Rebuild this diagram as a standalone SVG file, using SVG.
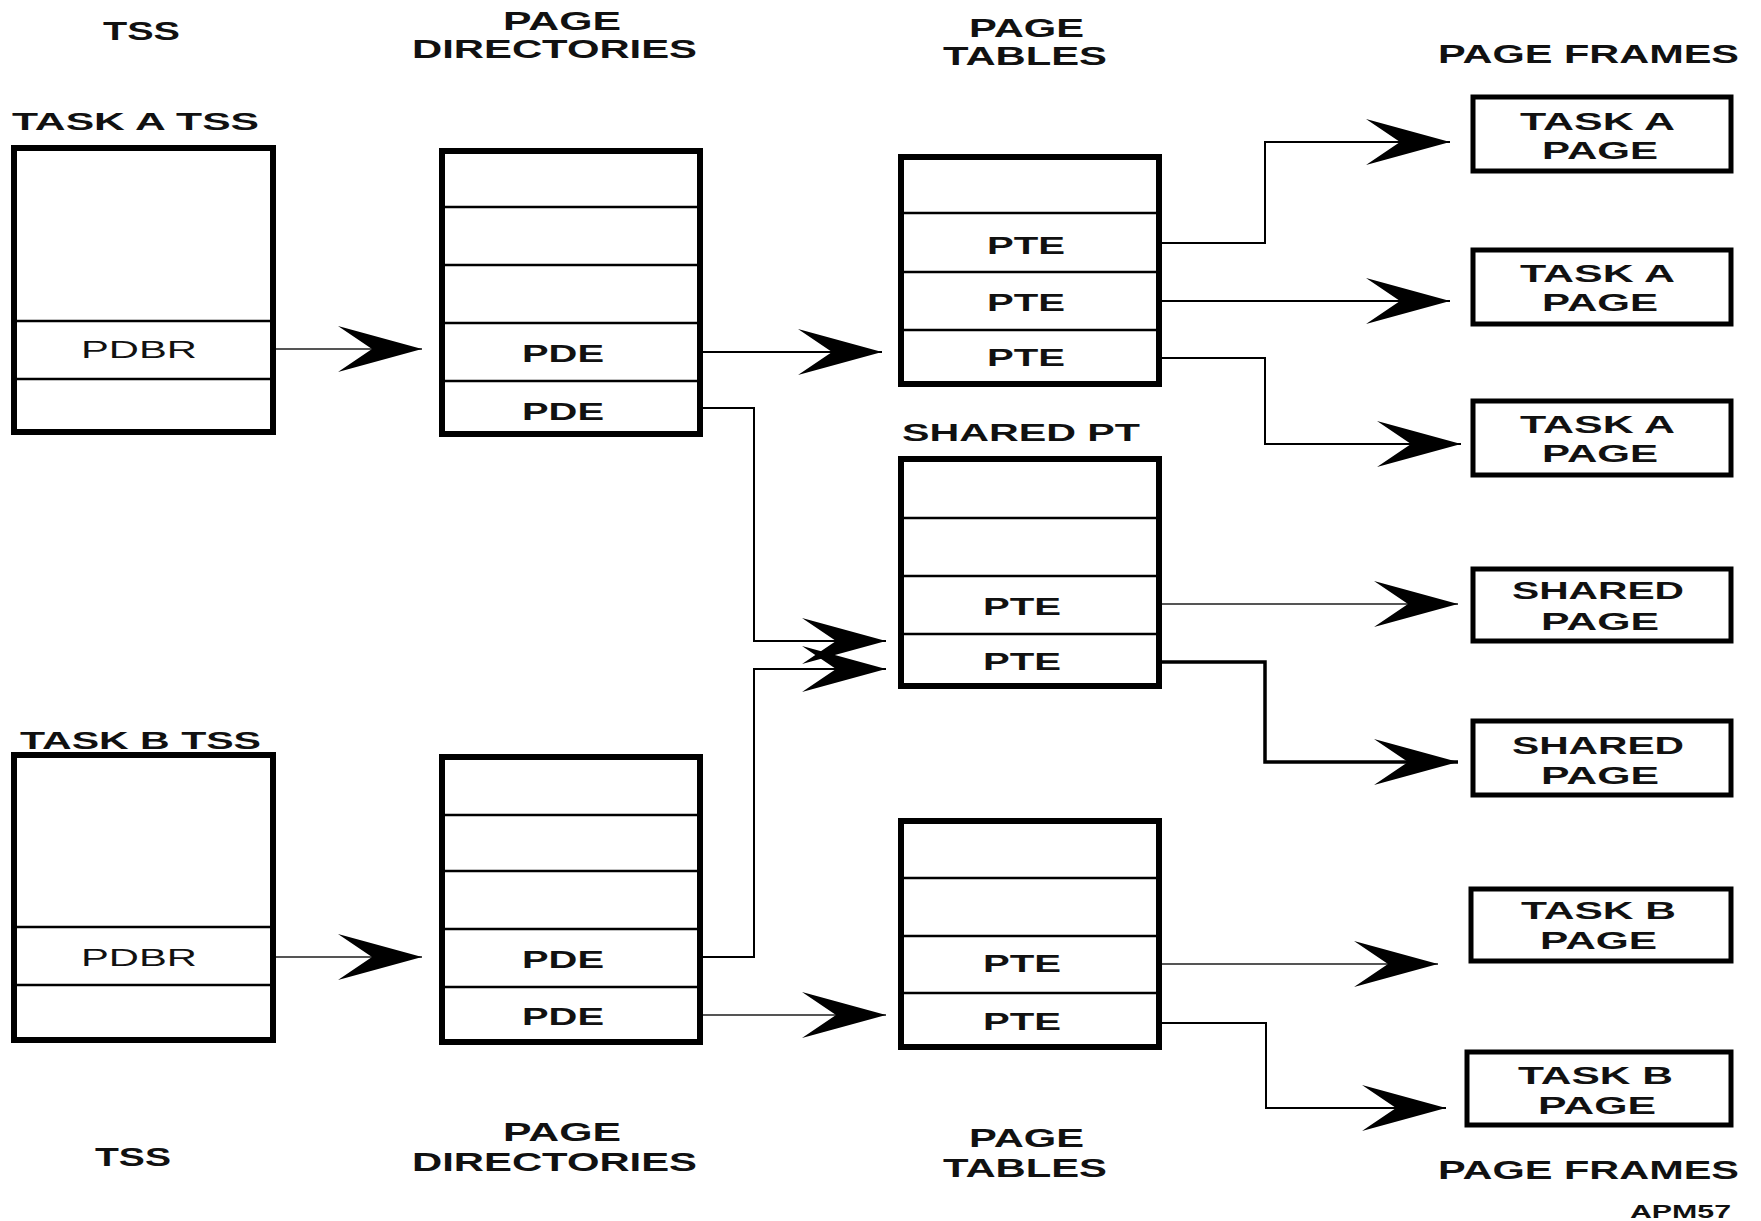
<svg xmlns="http://www.w3.org/2000/svg" width="1761" height="1221" viewBox="0 0 1761 1221">
<defs>
<style>
.bg{fill:#fff}
.box{fill:#fff;stroke:#000;stroke-width:6}
.frame{fill:#fff;stroke:#000;stroke-width:5}
.dv{stroke:#000;stroke-width:2.5}
.t{font-family:"Liberation Sans",Arial,Helvetica,sans-serif;font-weight:bold;font-size:24px;fill:#111}
.h{font-size:25px}
.n{font-weight:normal}
.c{fill:none;stroke:#000;stroke-width:2;marker-end:url(#ah)}
.g{stroke:#555}
.k{stroke-width:3.5}
</style>
<marker id="ah" viewBox="-86 -24 88 48" refX="0" refY="0" markerWidth="88" markerHeight="48" markerUnits="userSpaceOnUse" orient="auto">
<path d="M0,0 L-84,-23 L-50,0 L-84,23 Z" fill="#000"/>
</marker>
</defs>
<rect class="bg" x="0" y="0" width="1761" height="1221"/>

<g id="headers">
<text class="t h" x="103" y="40" textLength="77" lengthAdjust="spacingAndGlyphs">TSS</text>
<text class="t h" x="503" y="30" textLength="118" lengthAdjust="spacingAndGlyphs">PAGE</text>
<text class="t h" x="412" y="58" textLength="285" lengthAdjust="spacingAndGlyphs">DIRECTORIES</text>
<text class="t h" x="969" y="37" textLength="115" lengthAdjust="spacingAndGlyphs">PAGE</text>
<text class="t h" x="943" y="65" textLength="164" lengthAdjust="spacingAndGlyphs">TABLES</text>
<text class="t h" x="1438" y="63" textLength="301" lengthAdjust="spacingAndGlyphs">PAGE FRAMES</text>
<text class="t h" x="95" y="1166" textLength="76" lengthAdjust="spacingAndGlyphs">TSS</text>
<text class="t h" x="503" y="1141" textLength="118" lengthAdjust="spacingAndGlyphs">PAGE</text>
<text class="t h" x="412" y="1171" textLength="285" lengthAdjust="spacingAndGlyphs">DIRECTORIES</text>
<text class="t h" x="969" y="1147" textLength="115" lengthAdjust="spacingAndGlyphs">PAGE</text>
<text class="t h" x="943" y="1177" textLength="164" lengthAdjust="spacingAndGlyphs">TABLES</text>
<text class="t h" x="1438" y="1179" textLength="301" lengthAdjust="spacingAndGlyphs">PAGE FRAMES</text>
<text class="t" style="font-size:18px" x="1630" y="1218" textLength="101" lengthAdjust="spacingAndGlyphs">APM57</text>
</g>

<g id="connectors">
<path class="c g" d="M273,349 H422"/>
<path class="c" d="M700,352 H882"/>
<path class="c" d="M700,408 H754 V641 H886"/>
<path class="c" d="M700,957 H754 V669 H886"/>
<path class="c g" d="M273,957 H422"/>
<path class="c g" d="M700,1015 H886"/>
<path class="c" d="M1159,243 H1265 V142 H1450"/>
<path class="c" d="M1159,301 H1450"/>
<path class="c" d="M1159,358 H1265 V444 H1461"/>
<path class="c g" d="M1159,604 H1458"/>
<path class="c k" d="M1159,662 H1265 V762 H1458"/>
<path class="c g" d="M1159,964 H1438"/>
<path class="c" d="M1159,1023 H1266 V1108 H1446"/>
</g>

<g id="tss-a">
<text class="t" x="12" y="130" textLength="247" lengthAdjust="spacingAndGlyphs">TASK A TSS</text>
<rect class="box" x="14" y="148" width="259" height="284"/>
<line class="dv" x1="14" y1="321" x2="273" y2="321"/>
<line class="dv" x1="14" y1="379" x2="273" y2="379"/>
<text class="t n" x="81" y="358" textLength="116" lengthAdjust="spacingAndGlyphs">PDBR</text>
</g>

<g id="pd-a">
<rect class="box" x="442" y="151" width="258" height="283"/>
<line class="dv" x1="442" y1="207" x2="700" y2="207"/>
<line class="dv" x1="442" y1="265" x2="700" y2="265"/>
<line class="dv" x1="442" y1="323" x2="700" y2="323"/>
<line class="dv" x1="442" y1="381" x2="700" y2="381"/>
<text class="t" x="522" y="362" textLength="82" lengthAdjust="spacingAndGlyphs">PDE</text>
<text class="t" x="522" y="420" textLength="82" lengthAdjust="spacingAndGlyphs">PDE</text>
</g>

<g id="pt-a">
<rect class="box" x="901" y="157" width="258" height="227"/>
<line class="dv" x1="901" y1="213" x2="1159" y2="213"/>
<line class="dv" x1="901" y1="272" x2="1159" y2="272"/>
<line class="dv" x1="901" y1="330" x2="1159" y2="330"/>
<text class="t" x="987" y="254" textLength="78" lengthAdjust="spacingAndGlyphs">PTE</text>
<text class="t" x="987" y="311" textLength="78" lengthAdjust="spacingAndGlyphs">PTE</text>
<text class="t" x="987" y="366" textLength="78" lengthAdjust="spacingAndGlyphs">PTE</text>
</g>

<g id="shared-pt">
<text class="t" x="902" y="441" textLength="238" lengthAdjust="spacingAndGlyphs">SHARED PT</text>
<rect class="box" x="901" y="459" width="258" height="227"/>
<line class="dv" x1="901" y1="518" x2="1159" y2="518"/>
<line class="dv" x1="901" y1="576" x2="1159" y2="576"/>
<line class="dv" x1="901" y1="634" x2="1159" y2="634"/>
<text class="t" x="983" y="615" textLength="78" lengthAdjust="spacingAndGlyphs">PTE</text>
<text class="t" x="983" y="670" textLength="78" lengthAdjust="spacingAndGlyphs">PTE</text>
</g>

<g id="tss-b">
<text class="t" x="20" y="749" textLength="241" lengthAdjust="spacingAndGlyphs">TASK B TSS</text>
<rect class="box" x="14" y="755" width="259" height="285"/>
<line class="dv" x1="14" y1="927" x2="273" y2="927"/>
<line class="dv" x1="14" y1="985" x2="273" y2="985"/>
<text class="t n" x="81" y="966" textLength="116" lengthAdjust="spacingAndGlyphs">PDBR</text>
</g>

<g id="pd-b">
<rect class="box" x="442" y="757" width="258" height="285"/>
<line class="dv" x1="442" y1="815" x2="700" y2="815"/>
<line class="dv" x1="442" y1="871" x2="700" y2="871"/>
<line class="dv" x1="442" y1="929" x2="700" y2="929"/>
<line class="dv" x1="442" y1="987" x2="700" y2="987"/>
<text class="t" x="522" y="968" textLength="82" lengthAdjust="spacingAndGlyphs">PDE</text>
<text class="t" x="522" y="1025" textLength="82" lengthAdjust="spacingAndGlyphs">PDE</text>
</g>

<g id="pt-b">
<rect class="box" x="901" y="821" width="258" height="226"/>
<line class="dv" x1="901" y1="878" x2="1159" y2="878"/>
<line class="dv" x1="901" y1="936" x2="1159" y2="936"/>
<line class="dv" x1="901" y1="993" x2="1159" y2="993"/>
<text class="t" x="983" y="972" textLength="78" lengthAdjust="spacingAndGlyphs">PTE</text>
<text class="t" x="983" y="1030" textLength="78" lengthAdjust="spacingAndGlyphs">PTE</text>
</g>

<g id="frame-a1">
<rect class="frame" x="1473" y="97" width="258" height="74"/>
<text class="t" x="1520" y="130" textLength="155" lengthAdjust="spacingAndGlyphs">TASK A</text>
<text class="t" x="1542" y="159" textLength="116" lengthAdjust="spacingAndGlyphs">PAGE</text>
</g>
<g id="frame-a2">
<rect class="frame" x="1473" y="250" width="258" height="74"/>
<text class="t" x="1520" y="282" textLength="155" lengthAdjust="spacingAndGlyphs">TASK A</text>
<text class="t" x="1542" y="311" textLength="116" lengthAdjust="spacingAndGlyphs">PAGE</text>
</g>
<g id="frame-a3">
<rect class="frame" x="1473" y="401" width="258" height="74"/>
<text class="t" x="1520" y="433" textLength="155" lengthAdjust="spacingAndGlyphs">TASK A</text>
<text class="t" x="1542" y="462" textLength="116" lengthAdjust="spacingAndGlyphs">PAGE</text>
</g>
<g id="frame-s1">
<rect class="frame" x="1473" y="569" width="258" height="72"/>
<text class="t" x="1512" y="599" textLength="172" lengthAdjust="spacingAndGlyphs">SHARED</text>
<text class="t" x="1541" y="630" textLength="118" lengthAdjust="spacingAndGlyphs">PAGE</text>
</g>
<g id="frame-s2">
<rect class="frame" x="1473" y="721" width="258" height="74"/>
<text class="t" x="1512" y="754" textLength="172" lengthAdjust="spacingAndGlyphs">SHARED</text>
<text class="t" x="1541" y="784" textLength="118" lengthAdjust="spacingAndGlyphs">PAGE</text>
</g>
<g id="frame-b1">
<rect class="frame" x="1471" y="889" width="260" height="72"/>
<text class="t" x="1521" y="919" textLength="155" lengthAdjust="spacingAndGlyphs">TASK B</text>
<text class="t" x="1540" y="949" textLength="117" lengthAdjust="spacingAndGlyphs">PAGE</text>
</g>
<g id="frame-b2">
<rect class="frame" x="1467" y="1052" width="264" height="73"/>
<text class="t" x="1518" y="1084" textLength="155" lengthAdjust="spacingAndGlyphs">TASK B</text>
<text class="t" x="1538" y="1114" textLength="118" lengthAdjust="spacingAndGlyphs">PAGE</text>
</g>
</svg>
